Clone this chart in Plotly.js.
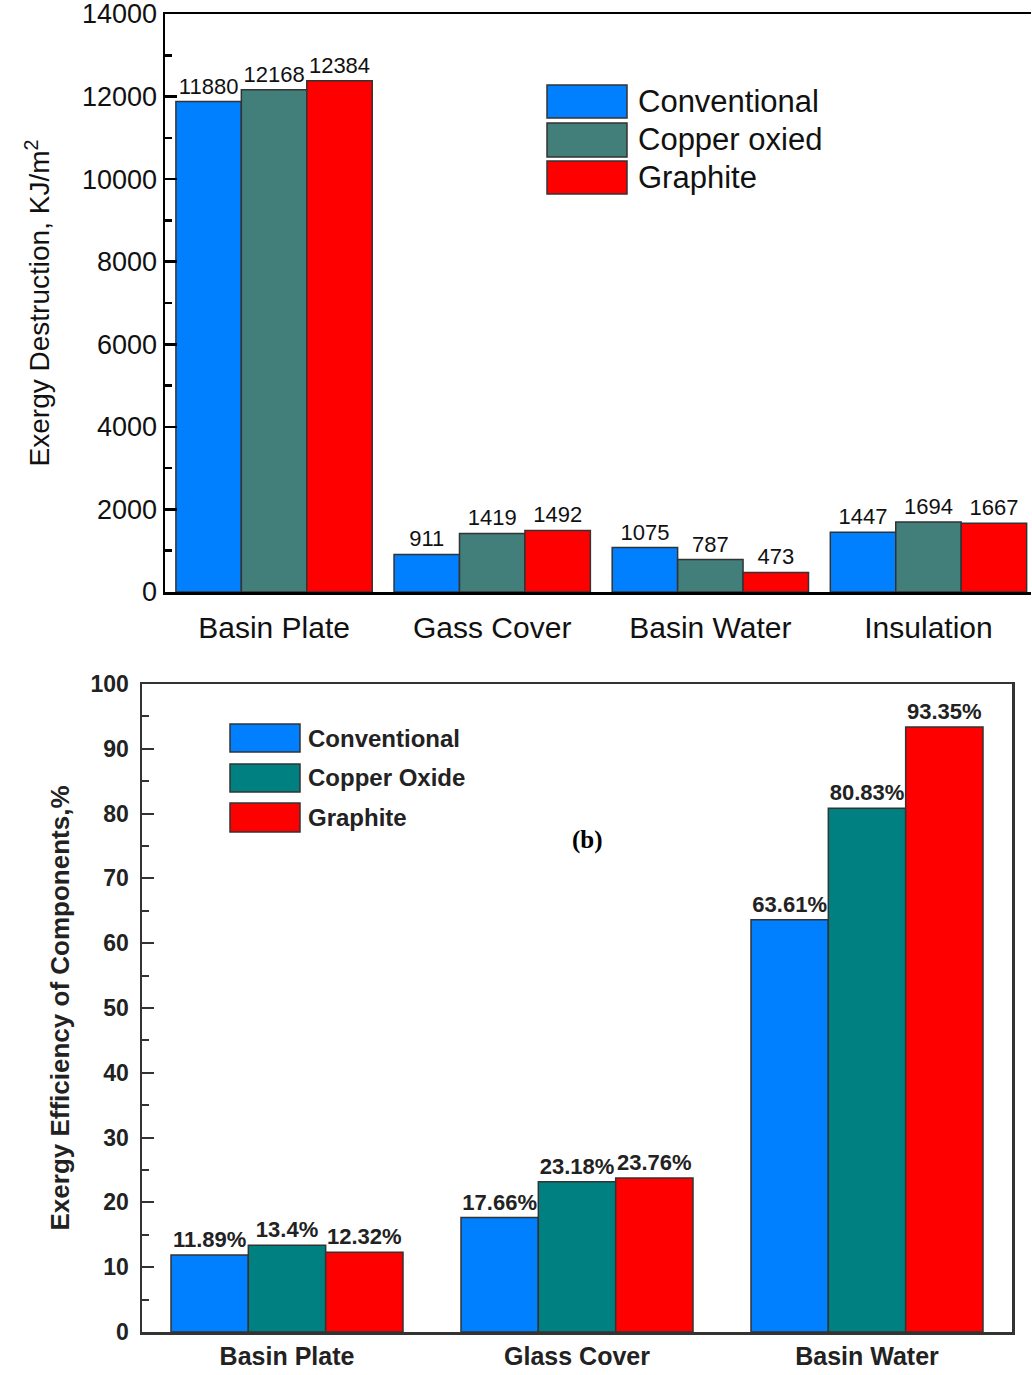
<!DOCTYPE html>
<html>
<head>
<meta charset="utf-8">
<script src="https://cdn.plot.ly/plotly-3.0.1.min.js"></script>
<style>html,body{margin:0;padding:0;background:#fff;}#chart{width:1032px;height:1375px;}</style>
</head>
<body>
<div id="chart"></div>
<script>
// ---- data: chart (a) exergy destruction ----
const categoriesA = ['Basin Plate', 'Gass Cover', 'Basin Water', 'Insulation'];
const conventionalA = [11880, 911, 1075, 1447];
const copperA = [12168, 1419, 787, 1694];
const graphiteA = [12384, 1492, 473, 1667];
const seriesNamesA = ['Conventional', 'Copper oxied', 'Graphite'];

// ---- data: chart (b) exergy efficiency ----
const categoriesB = ['Basin Plate', 'Glass Cover', 'Basin Water'];
const conventionalB = [11.89, 17.66, 63.61];
const copperB = [13.4, 23.18, 80.83];
const graphiteB = [12.32, 23.76, 93.35];
const seriesNamesB = ['Conventional', 'Copper Oxide', 'Graphite'];

const W = 1032, H = 1375;
const px = x => x / W;
const py = y => 1 - y / H;

const colorsA = ['#0080ff', '#427e7a', '#ff0000'];
const colorsB = ['#0080ff', '#008080', '#ff0000'];
const FONT = 'Liberation Sans, Arial, sans-serif';

function barA(name, vals, color) {
  return {
    type: 'bar', name: name, x: categoriesA, y: vals, xaxis: 'x', yaxis: 'y',
    marker: {color: color, line: {color: '#333', width: 1.5}},
    text: vals.map(v => String(v)), textposition: 'outside', cliponaxis: false,
    textfont: {family: FONT, size: 22, color: '#111'}, showlegend: false
  };
}
const wB = 0.8 / 3;
function barB(name, vals, color, i) {
  return {
    type: 'bar', name: name, x: categoriesB, y: vals, xaxis: 'x2', yaxis: 'y2',
    width: wB, offset: -0.4 + i * wB,
    marker: {color: color, line: {color: '#333', width: 1.5}},
    text: vals.map(v => v + '%'), textposition: 'outside', cliponaxis: false,
    textfont: {family: FONT, size: 22, color: '#222', weight: 'bold'}, showlegend: false
  };
}

const data = [
  barA(seriesNamesA[0], conventionalA, colorsA[0]),
  barA(seriesNamesA[1], copperA, colorsA[1]),
  barA(seriesNamesA[2], graphiteA, colorsA[2]),
  barB(seriesNamesB[0], conventionalB, colorsB[0], 0),
  barB(seriesNamesB[1], copperB, colorsB[1], 1),
  barB(seriesNamesB[2], graphiteB, colorsB[2], 2)
];

// custom legends (large swatches as in the figure)
const shapes = [];
const annotations = [];
const legA = [[85, 118], [123, 157], [161, 194]];
seriesNamesA.forEach((n, i) => {
  shapes.push({type: 'rect', xref: 'paper', yref: 'paper', x0: px(547), x1: px(627),
    y0: py(legA[i][1]), y1: py(legA[i][0]), fillcolor: colorsA[i], line: {color: '#333', width: 1.5}});
  annotations.push({xref: 'paper', yref: 'paper', x: px(636), y: py((legA[i][0] + legA[i][1]) / 2),
    xanchor: 'left', yanchor: 'middle', text: n, showarrow: false,
    font: {family: FONT, size: 31, color: '#111'}});
});
const legB = [[724, 752], [764, 792], [803, 832]];
seriesNamesB.forEach((n, i) => {
  shapes.push({type: 'rect', xref: 'paper', yref: 'paper', x0: px(230), x1: px(300),
    y0: py(legB[i][1]), y1: py(legB[i][0]), fillcolor: colorsB[i], line: {color: '#333', width: 1.5}});
  annotations.push({xref: 'paper', yref: 'paper', x: px(306), y: py((legB[i][0] + legB[i][1]) / 2),
    xanchor: 'left', yanchor: 'middle', text: n, showarrow: false,
    font: {family: FONT, size: 24, color: '#222', weight: 'bold'}});
});
annotations.push({xref: 'paper', yref: 'paper', x: px(587), y: py(840), xanchor: 'center', yanchor: 'middle',
  text: '(b)', showarrow: false, font: {family: 'Liberation Serif, Times New Roman, serif', size: 25, color: '#000', weight: 'bold'}});

const layout = {
  width: W, height: H,
  margin: {l: 0, r: 0, t: 0, b: 0},
  paper_bgcolor: '#fff', plot_bgcolor: '#fff',
  barmode: 'group', bargap: 0.1, bargroupgap: 0,
  showlegend: false,
  font: {family: FONT, color: '#111'},
  xaxis: {
    domain: [px(165), px(1031)], range: [-0.5, 3.47], anchor: 'y',
    showline: true, linecolor: '#000', linewidth: 2.5, mirror: true,
    ticks: '', showgrid: false, zeroline: false,
    tickfont: {family: FONT, size: 30, color: '#111'}, ticklabelstandoff: 7
  },
  yaxis: {
    domain: [py(592), py(14)], range: [0, 14000], anchor: 'x',
    showline: true, linecolor: '#000', linewidth: 2.5,
    ticks: 'inside', ticklen: 12, tickwidth: 2.5, tickcolor: '#000', dtick: 2000, tickformat: 'd',
    ticklabeloverflow: 'allow',
    minor: {ticks: 'inside', ticklen: 7, tickwidth: 2.5, tickcolor: '#000', dtick: 1000, showgrid: false},
    showgrid: false, zeroline: false,
    tickfont: {family: FONT, size: 27, color: '#111'},
    title: {text: 'Exergy Destruction, KJ/m<sup>2</sup>', font: {family: FONT, size: 28, color: '#111'}, standoff: 24}
  },
  xaxis2: {
    domain: [px(142), px(1012)], range: [-0.5, 2.5], anchor: 'y2',
    showline: true, linecolor: '#333', linewidth: 2.5, mirror: true,
    ticks: '', showgrid: false, zeroline: false,
    tickfont: {family: FONT, size: 25, color: '#222', weight: 'bold'}, ticklabelstandoff: 0
  },
  yaxis2: {
    domain: [py(1332), py(684)], range: [0, 100], anchor: 'x2',
    showline: true, linecolor: '#333', linewidth: 2.5, mirror: true,
    ticks: 'inside', ticklen: 12, tickwidth: 2, tickcolor: '#333', dtick: 10,
    ticklabeloverflow: 'allow',
    minor: {ticks: 'inside', ticklen: 7, tickwidth: 2, tickcolor: '#333', dtick: 5, showgrid: false},
    showgrid: false, zeroline: false,
    tickfont: {family: FONT, size: 23, color: '#222', weight: 'bold'}, ticklabelstandoff: 6,
    title: {text: 'Exergy Efficiency of Components,%', font: {family: FONT, size: 26, color: '#222', weight: 'bold'}, standoff: 14}
  },
  shapes: shapes,
  annotations: annotations
};

Plotly.newPlot('chart', data, layout, {staticPlot: true, displayModeBar: false});
</script>
</body>
</html>
